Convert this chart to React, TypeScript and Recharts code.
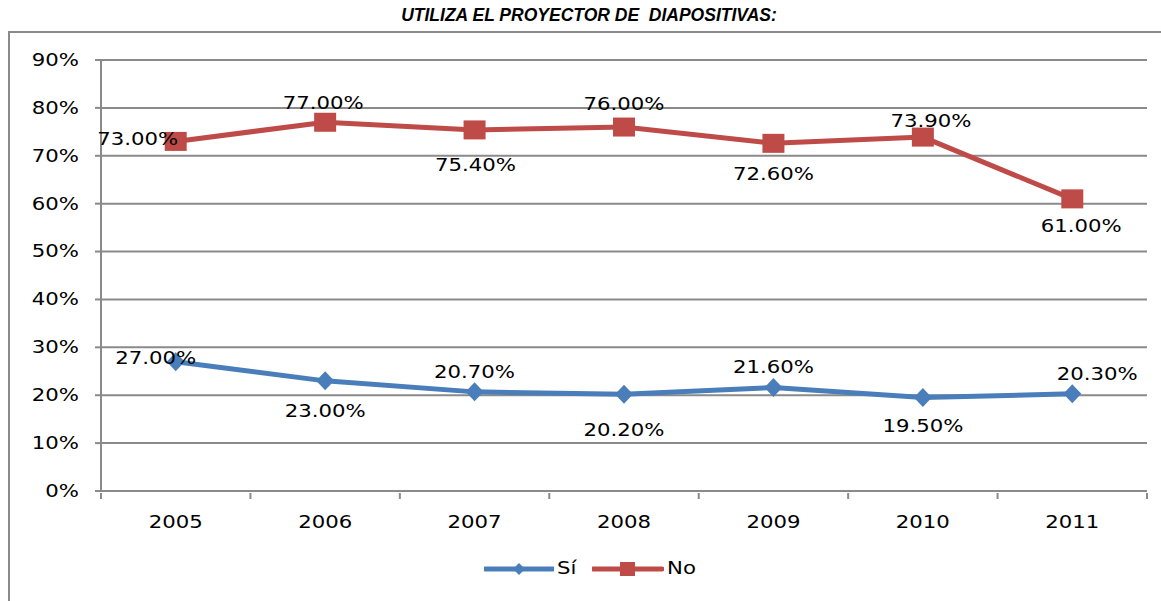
import { LineChart, Line, XAxis, YAxis, CartesianGrid, Legend, LabelList } from 'recharts';

const years = ['2005', '2006', '2007', '2008', '2009', '2010', '2011'];
const siValues = [27.0, 23.0, 20.7, 20.2, 21.6, 19.5, 20.3];
const noValues = [73.0, 77.0, 75.4, 76.0, 72.6, 73.9, 61.0];
const yTicks = [0, 10, 20, 30, 40, 50, 60, 70, 80, 90];

// label placement (style only): offsets from the marker centre
const siLabelDx = [-20, 0, 0, 0, 0, 0, 25];
const siLabelDy = [-4, 30, -20, 36, -21, 28, -20];
const noLabelDx = [-38, -2, 1, 0, 0, 8, 9];
const noLabelDy = [-2, -19, 35, -23, 31, -16, 27];

const BLUE = '#4a7ebb';
const RED = '#be4b48';
const GRAY = '#8a8a8a';
const FONT = '"DejaVu Sans", Verdana, sans-serif';
const STRETCH = 1.18;

const data = years.map((y, i) => ({ i, year: y, si: siValues[i], no: noValues[i] }));
const xTicks = [-0.5, 0, 0.5, 1, 1.5, 2, 2.5, 3, 3.5, 4, 4.5, 5, 5.5, 6, 6.5];

function Wide({ x, y, anchor, children }: any) {
    return (
        <text
            transform={`translate(${x} ${y}) scale(${STRETCH} 1)`}
            x={0}
            y={0}
            textAnchor={anchor}
            dominantBaseline="central"
            fontFamily={FONT}
            fontSize={18}
            fill="#000"
        >
            {children}
        </text>
    );
}

const YTick = ({ x, y, payload }: any) => (
    <Wide x={x} y={y} anchor="end">{`${payload.value}%`}</Wide>
);

const XTick = ({ x, y, payload }: any) => {
    const v = payload.value;
    if (Number.isInteger(v)) {
        return <Wide x={x} y={y + 29} anchor="middle">{years[v]}</Wide>;
    }
    return <line x1={x} x2={x} y1={y} y2={y + 6} stroke={GRAY} strokeWidth={2} />;
};

const Diamond = ({ cx, cy }: any) => (
    <polygon
        points={`${cx},${cy - 9.5} ${cx + 9},${cy} ${cx},${cy + 9.5} ${cx - 9},${cy}`}
        fill={BLUE}
    />
);

const Square = ({ cx, cy }: any) => (
    <rect x={cx - 11} y={cy - 9.5} width={22} height={19} fill={RED} />
);

const makeLabel = (dx: number[], dy: number[]) => (props: any) => {
    const { x, y, value, index } = props;
    return (
        <Wide x={x + dx[index]} y={y + dy[index]} anchor="middle">
            {`${Number(value).toFixed(2)}%`}
        </Wide>
    );
};

const legendText = {
    display: 'inline-block',
    fontFamily: FONT,
    fontSize: 18,
    color: '#000',
    transform: `scaleX(${STRETCH})`,
    transformOrigin: 'left center',
};

const LegendContent = () => (
    <div style={{ position: 'relative', height: 30, width: 1161 }}>
        <svg width={70} height={30} style={{ position: 'absolute', left: 484, top: 0 }}>
            <line x1={1} x2={69} y1={15} y2={15} stroke={BLUE} strokeWidth={5} strokeLinecap="round" />
            <polygon points="35,9 41,15 35,21 29,15" fill={BLUE} />
        </svg>
        <span style={{ ...legendText, position: 'absolute', left: 557, top: 3 }}>Sí</span>
        <svg width={72} height={30} style={{ position: 'absolute', left: 592, top: 0 }}>
            <line x1={1} x2={70} y1={15} y2={15} stroke={RED} strokeWidth={5} strokeLinecap="round" />
            <rect x={28} y={8} width={15} height={14} fill={RED} />
        </svg>
        <span style={{ ...legendText, position: 'absolute', left: 667, top: 3 }}>No</span>
    </div>
);

export default function App() {
    return (
        <div style={{ position: 'absolute', left: 0, top: 0, width: 1161, height: 601, overflow: 'hidden', background: '#fff' }}>
            <div
                style={{
                    position: 'absolute',
                    left: 8,
                    top: 31,
                    width: 1180,
                    height: 620,
                    border: `2px solid ${GRAY}`,
                }}
            />
            <div
                style={{
                    position: 'absolute',
                    left: 589,
                    top: 5,
                    transform: 'translateX(-50%)',
                    whiteSpace: 'pre',
                    fontFamily: '"Liberation Sans", Arial, sans-serif',
                    fontWeight: 'bold',
                    fontStyle: 'italic',
                    fontSize: 17.5,
                    color: '#000',
                }}
            >
                UTILIZA EL PROYECTOR DE  DIAPOSITIVAS:
            </div>
            <div style={{ position: 'absolute', left: 0, top: 0 }}>
                <LineChart
                    width={1161}
                    height={601}
                    data={data}
                    margin={{ top: 60, right: 14, bottom: 17, left: 0 }}
                >
                    <CartesianGrid vertical={false} stroke={GRAY} strokeWidth={2} />
                    <XAxis
                        dataKey="i"
                        type="number"
                        domain={[-0.5, 6.5]}
                        ticks={xTicks}
                        interval={0}
                        height={63}
                        tickSize={0}
                        tickLine={false}
                        axisLine={{ stroke: GRAY, strokeWidth: 2 }}
                        tick={<XTick />}
                    />
                    <YAxis
                        domain={[0, 90]}
                        ticks={yTicks}
                        interval={0}
                        width={101}
                        tickSize={6}
                        tickMargin={16}
                        tickLine={{ stroke: GRAY, strokeWidth: 2 }}
                        axisLine={{ stroke: GRAY, strokeWidth: 2 }}
                        tick={<YTick />}
                    />
                    <Legend
                        verticalAlign="bottom"
                        height={30}
                        content={<LegendContent />}
                        wrapperStyle={{ left: 0, width: 1161 }}
                    />
                    <Line
                        dataKey="si"
                        name="Sí"
                        stroke={BLUE}
                        strokeWidth={5}
                        dot={<Diamond />}
                        activeDot={false}
                        isAnimationActive={false}
                    >
                        <LabelList dataKey="si" content={makeLabel(siLabelDx, siLabelDy)} />
                    </Line>
                    <Line
                        dataKey="no"
                        name="No"
                        stroke={RED}
                        strokeWidth={5}
                        dot={<Square />}
                        activeDot={false}
                        isAnimationActive={false}
                    >
                        <LabelList dataKey="no" content={makeLabel(noLabelDx, noLabelDy)} />
                    </Line>
                </LineChart>
            </div>
        </div>
    );
}
